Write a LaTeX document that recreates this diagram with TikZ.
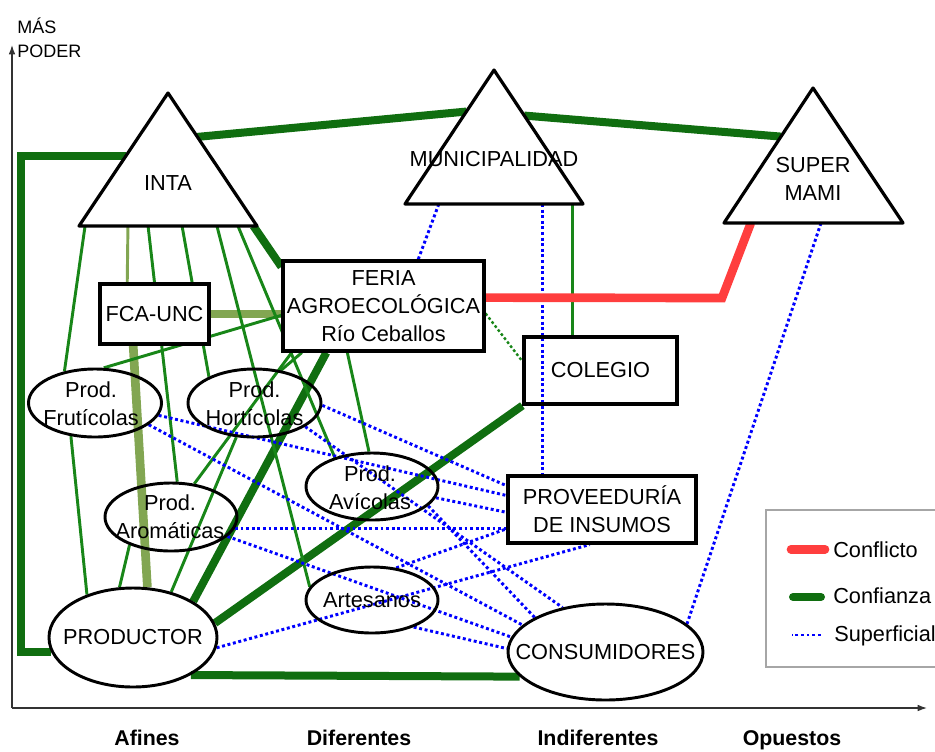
\documentclass[tikz,border=0pt]{standalone}
\usepackage{fontspec}
\setmainfont{Liberation Sans}
\usepackage{tikz}
\usetikzlibrary{shapes.geometric,calc,arrows.meta}

\definecolor{confgreen}{RGB}{16,110,16}
\definecolor{tiegreen}{RGB}{24,134,24}
\definecolor{uncgreen}{RGB}{130,166,82}
\definecolor{conflred}{RGB}{255,62,62}
\definecolor{supblue}{RGB}{0,0,255}

\pgfdeclarelayer{bg}
\pgfsetlayers{bg,main}

\begin{document}
\begin{tikzpicture}[x=0.75pt,y=0.75pt,yscale=-1,xscale=1,
  every node/.style={font=\fontsize{16.3}{21}\selectfont},
  box/.style={draw,line width=2.4pt,fill=white,inner sep=0pt,align=center},
  oval/.style={draw,ellipse,line width=2.2pt,inner sep=0pt},
  otext/.style={align=center,inner sep=0pt},
  tri/.style={draw,line width=2.4pt,line join=round,fill=white},
  conf/.style={confgreen,line width=6pt},
  tie/.style={tiegreen,line width=2.2pt},
  tiedot/.style={tiegreen,line width=1.8pt,dash pattern=on 2pt off 1.8pt},
  unc/.style={uncgreen,line width=6.5pt},
  uncthin/.style={uncgreen,line width=2.2pt},
  sup/.style={supblue,line width=2.2pt,dash pattern=on 2.2pt off 2pt},
  confl/.style={conflred,line width=6.5pt},
  axis/.style={black!80,line width=0.9pt,-{Latex[length=7pt,width=5pt]}},
  xlab/.style={font=\bfseries\fontsize{16}{19}\selectfont,anchor=base,inner sep=0pt},
  lgtext/.style={anchor=base west,inner sep=0pt}]
\useasboundingbox (0,0) rectangle (935,751);

%Axes
\coordinate (origin) at (12,708);
\draw[axis] (origin) -- (12,45);
\draw[axis] (origin) -- (927,708);
\node[anchor=base west,inner sep=0pt,font=\fontsize{13.5}{16}\selectfont] (mas) at (17,33) {MÁS};
\node[anchor=base west,inner sep=0pt,font=\fontsize{13.5}{16}\selectfont] (poder) at (17,57) {PODER};
\node[xlab] (afines) at (147,745) {Afines};
\node[xlab] (diferentes) at (359,745) {Diferentes};
\node[xlab] (indiferentes) at (598,745) {Indiferentes};
\node[xlab] (opuestos) at (792,745) {Opuestos};

%Triangles
\coordinate (intaL) at (79,226); \coordinate (intaT) at (168,93); \coordinate (intaR) at (257,226);
\draw[tri] (intaL) -- (intaT) -- (intaR) -- cycle;
\node (inta) at (168,183) {INTA};
\coordinate (muniL) at (405,204); \coordinate (muniT) at (494,70); \coordinate (muniR) at (583,204);
\draw[tri] (muniL) -- (muniT) -- (muniR) -- cycle;
\node (muni) at (494,159) {MUNICIPALIDAD};
\coordinate (superL) at (724,223); \coordinate (superT) at (813,88); \coordinate (superR) at (903,223);
\draw[tri] (superL) -- (superT) -- (superR) -- cycle;
\node[align=center] (super) at (813,179) {SUPER\\MAMI};

%Boxes
\node[box,minimum width=81.75pt,minimum height=45pt] (fca) at (154.5,314) {FCA-UNC};
\node[box,minimum width=150.75pt,minimum height=67.5pt] (feria) at (383.5,306) {FERIA\\AGROECOLÓGICA\\Río Ceballos};
\node[box,fill=none,minimum width=114.75pt,minimum height=50.25pt] (colegio) at (600.5,370.5) {COLEGIO};
\node[box,minimum width=141pt,minimum height=50.25pt] (prov) at (602,509.5) {PROVEEDURÍA\\DE INSUMOS};

%Ellipses
\node[oval,minimum width=99.75pt,minimum height=51pt] (fruti) at (95,403) {};
\node[otext] (frutitxt) at (91,404) {Prod.\\Frutícolas};
\node[oval,minimum width=99.75pt,minimum height=51pt] (horti) at (254.5,403) {};
\node[otext] (hortitxt) at (254.5,404) {Prod.\\Hortícolas};
\node[oval,minimum width=99pt,minimum height=51pt] (aroma) at (171,517) {};
\node[otext] (aromatxt) at (170,517) {Prod.\\Aromáticas};
\node[oval,minimum width=99pt,minimum height=50.25pt] (avic) at (372,486.5) {};
\node[otext] (avictxt) at (370,488) {Prod.\\Avícolas};
\node[oval,minimum width=99pt,minimum height=49.5pt] (artes) at (372,600) {};
\node (artestxt) at (372,600) {Artesanos};
\node[oval,minimum width=126pt,minimum height=74.25pt] (prod) at (133,637.5) {};
\node (prodtxt) at (133,637.5) {PRODUCTOR};
\node[oval,minimum width=146.25pt,minimum height=72pt] (cons) at (605.5,652) {};
\node (constxt) at (605.5,652) {CONSUMIDORES};

\coordinate (kink) at (722,298);
\coordinate (mc) at ($(muniL)!.94!(muniR)$);
\coordinate (mp) at ($(muniL)!.775!(muniR)$);

\begin{pgfonlayer}{bg}
%Confianza
\draw[conf] ($(intaL)!.53!(intaT)$) -- ++(-105,0) |- (prod.190);
\draw[conf] ($(intaT)!.33!(intaR)$) -- ($(muniL)!.69!(muniT)$);
\draw[conf] ($(muniT)!.34!(muniR)$) -- ($(superL)!.64!(superT)$);
\draw[conf] ($(intaL)!.98!(intaR)$) -- ($(feria.north west)!.08!(feria.south west)$);
\draw[conf] ($(feria.south west)!.22!(feria.south east)$) -- (prod.31);
\draw[conf] (prod.10) -- (colegio.south west);
\draw[conf] (prod.-33) -- (cons.196);
%FCA-UNC
\draw[uncthin] ($(intaL)!.275!(intaR)$) -- ($(fca.north west)!.257!(fca.north east)$);
\draw[unc] (fca.east) -- (fca.east -| feria.west);
\draw[unc] ($(fca.south west)!.31!(fca.south east)$) -- (prod.74);
%thin links
\draw[tie] ($(intaL)!.034!(intaR)$) -- (fruti.134);
\draw[tie] ($(intaL)!.388!(intaR)$) -- (aroma.80);
\draw[tie] ($(intaL)!.579!(intaR)$) -- (horti.150);
\draw[tie] ($(intaL)!.775!(intaR)$) -- (artes.168);
\draw[tie] ($(intaL)!.893!(intaR)$) -- (avic.142);
\draw[tie] ($(feria.north west)!.6!(feria.south west)$) -- (fruti.76);
\draw[tie] ($(feria.south west)!.05!(feria.south east)$) -- (aroma.55);
\draw[tie] ($(feria.south west)!.1!(feria.south east)$) -- (horti.51);
\draw[tie] ($(feria.south west)!.323!(feria.south east)$) -- (avic.95);
\draw[tie] (horti.242) -- (prod.50);
\draw[tie] (fruti.234) -- (prod.137);
\draw[tie] (aroma.214) -- (prod.105);
\draw[tie] (mc) -- (mc |- colegio.north);
\draw[tiedot] ($(feria.north east)!.58!(feria.south east)$) -- ($(colegio.north west)!.37!(colegio.south west)$);
%Superficial
\draw[sup] ($(muniL)!.19!(muniR)$) -- ($(feria.north west)!.67!(feria.north east)$);
\draw[sup] (mp) -- (mp |- prov.north);
\draw[sup] ($(superL)!.542!(superR)$) -- (cons.19);
\draw[sup] (fruti.349) -- ($(prov.north west)!.3!(prov.south west)$);
\draw[sup] (fruti.338) -- (cons.162);
\draw[sup] (horti.358) -- ($(prov.north west)!.16!(prov.south west)$);
\draw[sup] (horti.335) -- (cons.134);
\draw[sup] (aroma.350) -- (aroma.350 -| prov.west);
\draw[sup] (aroma.341) -- (cons.171);
\draw[sup] (avic.350) -- ($(prov.north west)!.54!(prov.south west)$);
\draw[sup] (avic.341) -- (cons.154);
\draw[sup] (artes.53) -- ($(prov.north west)!.776!(prov.south west)$);
\draw[sup] (artes.327) -- (cons.178);
\draw[sup] (prod.353) -- ($(prov.south west)!.436!(prov.south east)$);
%Conflicto
\draw[confl] ($(feria.north east)!.41!(feria.south east)$) -- (kink) -- ($(superL)!.15!(superR)$);
\end{pgfonlayer}

%Legend
\draw[black!35,line width=1.1pt] (937,510) -- (766,510) -- (766,667) -- (937,667);
\node[lgtext] (lgconfl) at (833,557) {Conflicto};
\node[lgtext] (lgconf) at (833,603) {Confianza};
\node[lgtext] (lgsup) at (834,641) {Superficial};
\draw[confl,line cap=round] ([xshift=-6pt,yshift=-5.8pt]lgconfl.base west) -- ++(-34,0);
\draw[conf,line cap=round] ([xshift=-9pt,yshift=-4.5pt]lgconf.base west) -- ++(-28,0);
\draw[sup] ([xshift=-10pt,yshift=-4.5pt]lgsup.base west) -- ++(-29,0);

\end{tikzpicture}
\end{document}
